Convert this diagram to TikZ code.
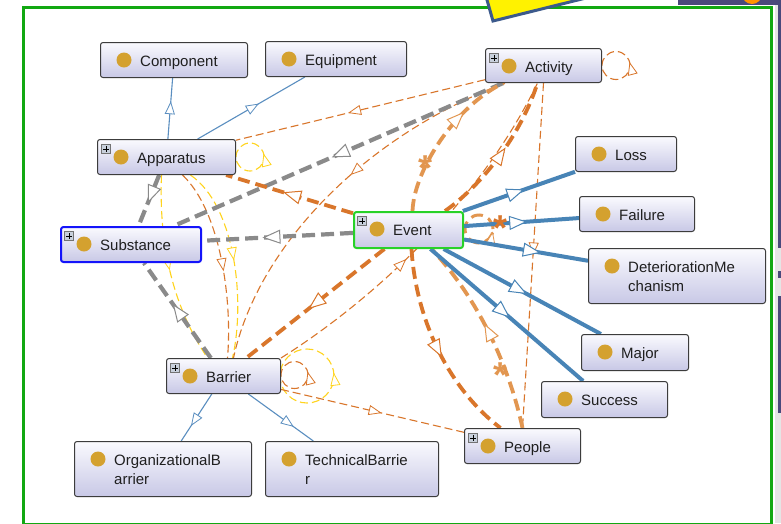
\documentclass[tikz,border=0pt]{standalone}
\usepackage{fontspec}
\setmainfont{Liberation Sans}
\usepackage{tikz}
\usetikzlibrary{arrows.meta,calc,decorations.markings,positioning}

\pgfdeclarelayer{bg}
\pgfdeclarelayer{edges}
\pgfsetlayers{bg,edges,main}

\definecolor{framegreen}{RGB}{18,168,18}
\definecolor{nodeline}{RGB}{60,60,60}
\definecolor{nodetop}{RGB}{250,250,254}
\definecolor{nodebot}{RGB}{200,200,230}
\definecolor{dotgold}{RGB}{212,161,47}
\definecolor{plusfill}{RGB}{200,208,220}
\definecolor{evtgreen}{RGB}{40,210,40}
\definecolor{subblue}{RGB}{20,20,250}
\definecolor{bluethin}{RGB}{90,142,192}
\definecolor{bluethick}{RGB}{72,132,182}
\definecolor{grayln}{RGB}{138,138,138}
\definecolor{orD}{RGB}{217,118,43}
\definecolor{orL}{RGB}{226,150,80}
\definecolor{yel}{RGB}{255,212,30}
\definecolor{navy}{RGB}{74,72,124}
\definecolor{stickyblue}{RGB}{60,90,140}

% class box: [options]{name}{x,y of top left}{width}{height}{text}
\newcommand{\ocls}[6][]{%
  \node[cls,minimum width=#4pt,minimum height=#5pt,#1] (#2) at (#3) {};
  \fill[dotgold] ($(#2.north west)+(24,18)$) circle[radius=7.5pt];
  \node[lbl] (#2-l) at ($(#2.north west)+(40,13.3)$) {\vphantom{l}#6};}
% small expand box
\newcommand{\expd}[1]{\node[plusbox] (#1-p) at ($(#1.north west)+(9,10)$) {};}

\begin{document}
\begin{tikzpicture}[x=1pt,y=-1pt,
   cls/.style={draw=nodeline,line width=1pt,rounded corners=2.5pt,top color=nodetop,bottom color=nodebot,anchor=north west,inner sep=0pt},
   lbl/.style={anchor=north west,inner sep=0pt,align=left,text=black!88,font=\fontsize{15}{19}\selectfont},
   plusbox/.style={draw=black!55,fill=plusfill,line width=0.5pt,minimum size=9pt,inner sep=0pt,
     path picture={\draw[black,line width=0.9pt] ([xshift=1.8pt]path picture bounding box.west)--([xshift=-1.8pt]path picture bounding box.east)
       ([yshift=-1.8pt]path picture bounding box.north)--([yshift=1.8pt]path picture bounding box.south);}},
   astk/.style={inner sep=0pt,yshift=-8pt,font=\fontsize{36}{36}\selectfont\bfseries},
   tri/.style={postaction={decorate,decoration={markings,mark=at position #1 with {\arrow{Triangle[fill=white,length=13pt,width=10pt,line width=0.8pt]}}}}},
   tri/.default=0.55,
   bigtri/.style={postaction={decorate,decoration={markings,mark=at position #1 with {\arrow{Triangle[fill=white,length=18pt,width=14pt,line width=1pt]}}}}},
   bigtri/.default=0.55,
   thinblue/.style={draw=bluethin,line width=1.1pt},
   thickblue/.style={draw=bluethick,line width=4pt},
   grayedge/.style={draw=grayln,line width=4.2pt,dash pattern=on 13pt off 6pt},
   oredge/.style={draw=orD,line width=3.8pt,dash pattern=on 12pt off 6pt},
   ltedge/.style={draw=orL,line width=3.8pt,dash pattern=on 12pt off 6pt},
   thinor/.style={draw=orD,line width=1.1pt,dash pattern=on 8pt off 4pt},
   yeledge/.style={draw=yel,line width=1.1pt,dash pattern=on 8pt off 4pt}]

  \useasboundingbox (0,0) rectangle (781,523);

  % window, frame and screen leftovers
  \begin{pgfonlayer}{bg}
    \fill[white] (0,0) rectangle (781,523);
    \fill[black!10] (775,0) rectangle (781,523);
    \fill[navy] (778,0) rectangle (781,248);
    \fill[navy] (778,271) rectangle (781,278);
    \fill[navy] (778,296) rectangle (781,413);
    \draw[framegreen,line width=3.5pt] (23.5,7.5) rectangle (771.5,524.5);
    \filldraw[fill=yellow,draw=stickyblue,line width=3pt] (485.6,-5) -- (493,21) -- (598,-5) -- cycle;
    \fill[navy] (678,0) rectangle (781,4.5);
    \fill[orange!85!yellow] (752,-6) circle[radius=10pt];
  \end{pgfonlayer}

  % classes
  \ocls{comp}{100,42}{147}{35}{Component}
  \ocls{equip}{265,41}{141}{35}{Equipment}
  \ocls{act}{485,48}{116}{34}{Activity}
  \ocls{app}{97,139}{138}{35}{Apparatus}
  \ocls[draw=subblue,line width=2pt]{sub}{60,226}{140}{35}{Substance}
  \ocls[draw=evtgreen,line width=2pt]{evt}{353,211}{109}{36}{Event}
  \ocls{loss}{575,136}{101}{35}{Loss}
  \ocls{fail}{579,196}{115}{35}{Failure}
  \ocls{dete}{588,248}{177}{55}{DeteriorationMe\\chanism}
  \ocls{major}{581,334}{107}{36}{Major}
  \ocls{succ}{541,381}{126}{36}{Success}
  \ocls{ppl}{464,428}{116}{35}{People}
  \ocls{bar}{166,358}{114}{35}{Barrier}
  \ocls{org}{74,441}{177}{55}{OrganizationalB\\arrier}
  \ocls{tech}{265,441}{173}{55}{TechnicalBarrie\\r}
  \expd{act} \expd{app} \expd{sub} \expd{evt} \expd{ppl} \expd{bar}

  \node[astk,text=orL] (st1) at (425,160) {*};
  \node[astk,text=orD] (st2) at (500,220) {*};
  \node[astk,text=orL] (st3) at (500,367) {*};

  \begin{pgfonlayer}{edges}
    % yellow
    \draw[yeledge,tri=0.5] ($(app.south)+(-5,0)$) .. controls +(-3,76) and +(-32,-48) .. ($(bar.north)+(-16,0)$);
    \draw[yeledge,tri=0.5] ($(app.south)+(24,0)$) .. controls +(45,31) and +(13,-57) .. ($(bar.north)+(9,0)$);
    \draw[yeledge,tri=0.04] ($(app.east)+(28,0)$) arc[start angle=0,end angle=-360,radius=14];
    \draw[yeledge,tri=0.02] ($(bar.east)+(53,0)$) arc[start angle=0,end angle=-360,radius=27];
    % thin orange
    \draw[thinor,tri] (act) -- (app);
    \draw[thinor,tri=0.45] ($(act.south west)+(20,0)$) .. controls +(-145,55) and +(23,-108) .. ($(bar.north)+(10,0)$);
    \draw[thinor,tri=0.42] (bar.north east) .. controls +(92,-58) and +(-57,118) .. ($(act.south)+(-6,0)$);
    \draw[thinor,tri] ($(app.south)+(16,0)$) .. controls +(38,36) and +(5,-58) .. ($(bar.north)+(4,0)$);
    \draw[thinor,tri] (bar) -- (ppl);
    \draw[thinor,tri=0.5] (act.south) -- (ppl.north);
    \draw[thinor,tri=0.04] ($(act.east)+(28,0)$) arc[start angle=0,end angle=-360,radius=14];
    \draw[thinor,tri=0.04] ($(bar.east)+(27,-1)$) arc[start angle=0,end angle=-360,radius=13.5];
    % gray
    \draw[grayedge,bigtri=0.6] (evt) -- (sub);
    \draw[grayedge,bigtri=0.52] (act) -- (sub);
    \draw[grayedge,bigtri] (app) -- (sub);
    \draw[grayedge,bigtri=0.57] (bar) -- (sub);
    % thick orange
    \draw[oredge,bigtri] (evt) -- (app);
    \draw[oredge,bigtri] (evt) -- (bar);
    \draw[oredge,bigtri] ($(evt.north east)+(-19,0)$) .. controls +(37,-26) and +(-17,53) .. ($(act.south)+(-6,0)$);
    \draw[oredge,bigtri] ($(evt.south)+(3,0)$) .. controls +(4.5,73) and +(-50,-38) .. ($(ppl.north)+(-22,0)$);
    \draw[ltedge,bigtri] (ppl.north) .. controls +(-12,-56) and +(50,53) .. ($(evt.south)+(23,0)$);
    \draw[ltedge,bigtri=0.7] ($(evt.north)+(4,0)$) .. controls +(1.5,-41) and +(-48,23) .. ($(act.south)+(-40,0)$);
    \draw[ltedge,line width=3pt,tri=0.97] ($(evt.east)+(29,-1)$) arc[start angle=0,end angle=-360,radius=14];
    % thick blue
    \draw[thickblue,bigtri] (evt) -- (loss);
    \draw[thickblue,bigtri] (evt) -- (fail);
    \draw[thickblue,bigtri=0.62] (evt) -- (dete);
    \draw[thickblue,bigtri=0.53] (evt) -- (major);
    \draw[thickblue,bigtri=0.52] (evt) -- (succ);
    % thin blue
    \draw[thinblue,tri=0.62] (app) -- (comp);
    \draw[thinblue,tri=0.57] (app) -- (equip);
    \draw[thinblue,tri=0.68] (bar) -- (org);
    \draw[thinblue,tri=0.7] (bar) -- (tech);
  \end{pgfonlayer}
\end{tikzpicture}
\end{document}
